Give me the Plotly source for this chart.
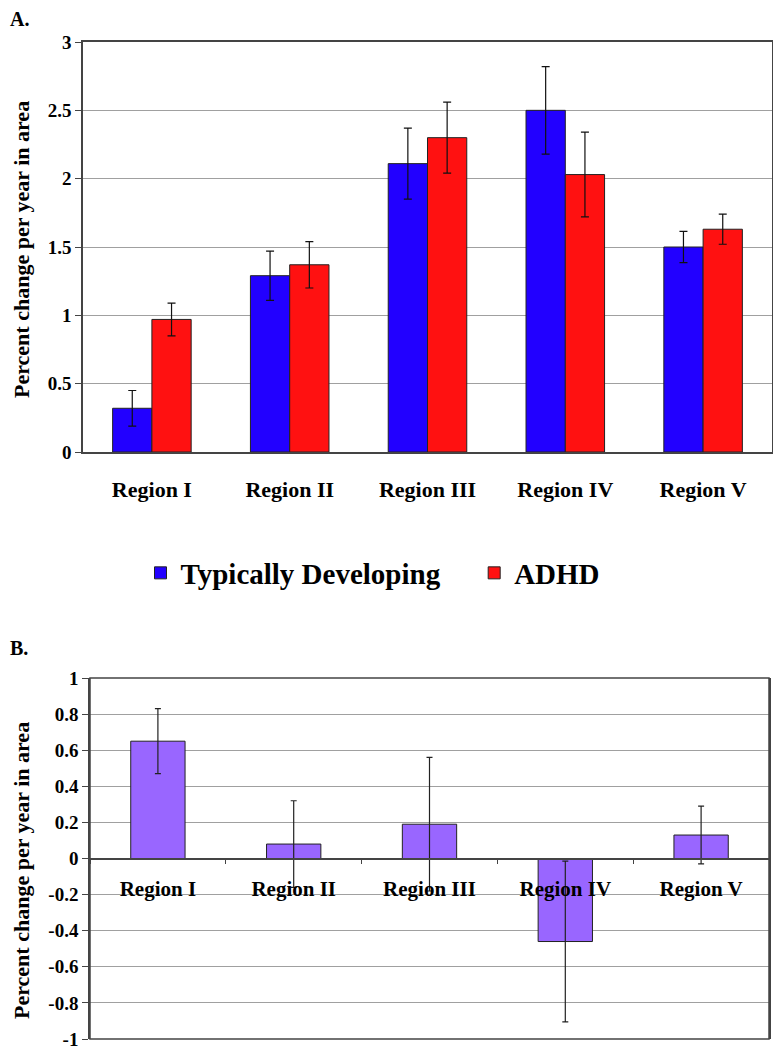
import plotly.graph_objects as go

# panel A data
regions = ["Region I", "Region II", "Region III", "Region IV", "Region V"]
td_vals = [0.32, 1.29, 2.11, 2.50, 1.50]
td_err = [0.13, 0.18, 0.26, 0.32, 0.115]
adhd_vals = [0.97, 1.37, 2.30, 2.03, 1.63]
adhd_err = [0.12, 0.17, 0.26, 0.31, 0.11]

# panel B data
diff_vals = [0.65, 0.08, 0.19, -0.46, 0.13]
diff_err = [0.18, 0.24, 0.37, 0.445, 0.16]
b_tickvals = [1, 0.8, 0.6, 0.4, 0.2, 0, -0.2, -0.4, -0.6, -0.8, -1]
b_ticktext = ["1", "0.8", "0.6", "0.4", "0.2", "0", "-0.2", "-0.4", "-0.6", "-0.8", "-1"]

W, H = 781, 1048
OFF = 8  # page body margin
FONT = "Liberation Serif"
edge = "#222222"
frame = "#444444"
grid = "#a0a0a0"


def px(x):
    return (x - OFF) / W


def py(y):
    return 1 - (y - OFF) / H


fig = go.Figure()

# nbsp padding widens the gap between the two legend entries
fig.add_trace(go.Bar(
    x=regions, y=td_vals, name="Typically Developing" + "\u00a0" * 4,
    marker=dict(color="#2200ff", line=dict(color=edge, width=1)),
    error_y=dict(type="data", array=td_err, color="#111111", thickness=1.2, width=4),
    offset=-0.285, width=0.285, xaxis="x", yaxis="y",
))
fig.add_trace(go.Bar(
    x=regions, y=adhd_vals, name="ADHD",
    marker=dict(color="#ff1111", line=dict(color=edge, width=1)),
    error_y=dict(type="data", array=adhd_err, color="#111111", thickness=1.2, width=4),
    offset=0, width=0.285, xaxis="x", yaxis="y",
))
fig.add_trace(go.Bar(
    x=regions, y=diff_vals, name="difference", showlegend=False,
    marker=dict(color="#9966ff", line=dict(color=edge, width=1)),
    error_y=dict(type="data", array=diff_err, color="#222222", thickness=1.2, width=3),
    width=0.4, xaxis="x2", yaxis="y2",
))

tickfont = dict(family=FONT, size=19, color="black", weight="bold")
catfont = dict(family=FONT, size=22, color="black", weight="bold")

fig.update_layout(
    width=W, height=H,
    margin=dict(l=0, r=0, t=0, b=0),
    paper_bgcolor="white", plot_bgcolor="white",
    barmode="group",
    font=dict(family=FONT, color="black"),
    xaxis=dict(domain=[px(83), px(772)], anchor="y", automargin=False,
               showline=True, mirror=True,
               linecolor=frame, linewidth=1.5, ticks="", tickfont=catfont,
               ticklabelstandoff=17, showgrid=False),
    yaxis=dict(domain=[py(452), py(42)], anchor="x", automargin=False,
               range=[0, 3], dtick=0.5,
               showline=True, mirror=True, linecolor=frame, linewidth=1.5,
               ticks="outside", ticklen=6, tickcolor=frame, tickfont=tickfont,
               ticklabelstandoff=0, showgrid=True, gridcolor=grid, gridwidth=1,
               zeroline=False),
    xaxis2=dict(domain=[px(90), px(769)], anchor="free", automargin=False,
                position=(py(1039) + py(678)) / 2,
                showline=True, linecolor=frame, linewidth=1.5,
                ticks="outside", tickson="boundaries", ticklen=5, tickcolor=frame,
                tickfont=dict(family=FONT, size=21, color="black", weight="bold"),
                ticklabelstandoff=12, showgrid=False),
    yaxis2=dict(domain=[py(1039), py(678)], anchor="x2", automargin=False,
                range=[-1, 1],
                tickvals=b_tickvals, ticktext=b_ticktext,
                showline=True, mirror=True, linecolor=frame, linewidth=1.5,
                ticks="outside", ticklen=6, tickcolor=frame, tickfont=tickfont,
                ticklabelstandoff=0, showgrid=True, gridcolor=grid, gridwidth=1,
                zeroline=False),
    legend=dict(orientation="h", x=px(373), xanchor="center", y=py(573), yanchor="middle",
                font=dict(family=FONT, size=29, color="black", weight="bold"),
                bgcolor="rgba(0,0,0,0)"),
    shapes=[
        dict(type="rect", xref="x2 domain", yref="y2 domain", x0=0, x1=1, y0=0, y1=1,
             line=dict(color=frame, width=1.5), layer="above"),
    ],
    annotations=[
        dict(text="A.", xref="paper", yref="paper", x=0, y=py(19),
             xanchor="left", yanchor="middle", showarrow=False,
             font=dict(family=FONT, size=20, color="black", weight="bold")),
        dict(text="B.", xref="paper", yref="paper", x=0, y=py(648),
             xanchor="left", yanchor="middle", showarrow=False,
             font=dict(family=FONT, size=20, color="black", weight="bold")),
        dict(text="Percent change per year in area", xref="paper", yref="paper",
             x=px(21), y=py(250), textangle=-90, showarrow=False,
             xanchor="center", yanchor="middle",
             font=dict(family=FONT, size=22, color="black", weight="bold")),
        dict(text="Percent change per year in area", xref="paper", yref="paper",
             x=px(21), y=py(871), textangle=-90, showarrow=False,
             xanchor="center", yanchor="middle",
             font=dict(family=FONT, size=22, color="black", weight="bold")),
    ],
)

fig.write_html("out.html")
